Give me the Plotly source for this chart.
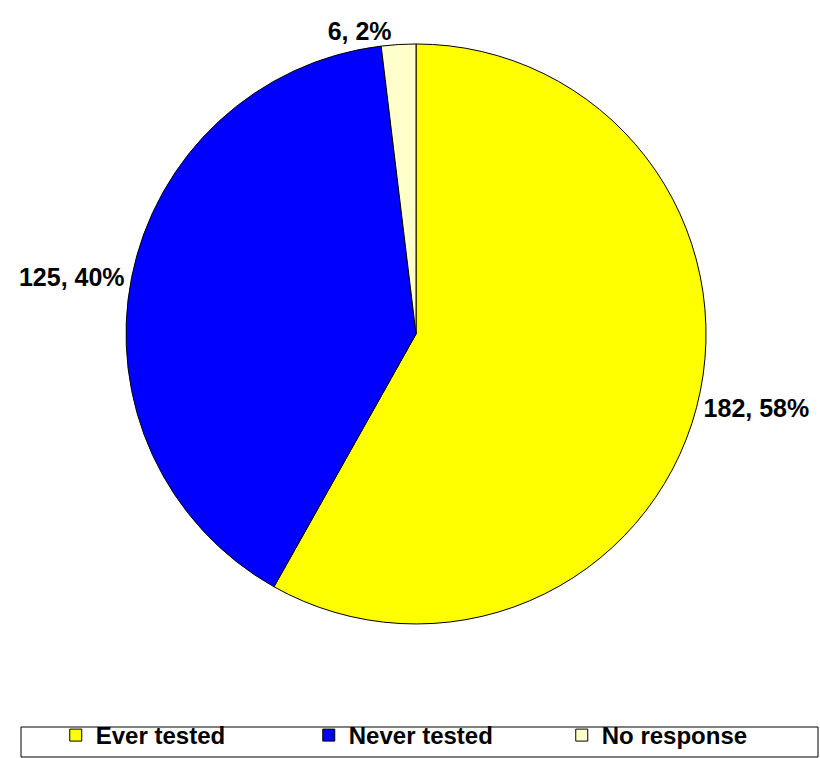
import plotly.graph_objects as go

labels = ["Ever tested", "Never tested", "No response"]
values = [182, 125, 6]
colors = ["#FFFF00", "#0000FF", "#FFFFCC"]

fig = go.Figure(go.Pie(
    labels=labels,
    values=values,
    sort=False,
    direction="clockwise",
    rotation=0,
    marker=dict(colors=colors, line=dict(color="#000000", width=1)),
    texttemplate="%{value}, %{percent:.0%}",
    textposition="outside",
    textfont=dict(family="Liberation Sans, Arial", size=25, color="#000000", weight="bold"),
    domain=dict(x=[0.1537, 0.8610], y=[0.1768, 0.9420]),
    automargin=False,
    showlegend=True,
))

fig.update_layout(
    width=820, height=758,
    margin=dict(l=0, r=0, t=0, b=0),
    paper_bgcolor="white",
    plot_bgcolor="white",
    legend=dict(
        orientation="h",
        x=0.068, xanchor="left",
        y=0.0, yanchor="bottom",
        borderwidth=0,
        bgcolor="rgba(0,0,0,0)",
        font=dict(family="Liberation Sans, Arial", size=24, color="#000000", weight="bold"),
        entrywidth=208,
        entrywidthmode="pixels",
        traceorder="normal",
    ),
    shapes=[dict(
        type="rect", xref="paper", yref="paper",
        x0=21 / 820, x1=818 / 820, y0=1 / 758, y1=1 - 727 / 758,
        line=dict(color="#000000", width=1), fillcolor="rgba(0,0,0,0)",
        layer="below",
    )],
)

fig.write_html("out.html")
